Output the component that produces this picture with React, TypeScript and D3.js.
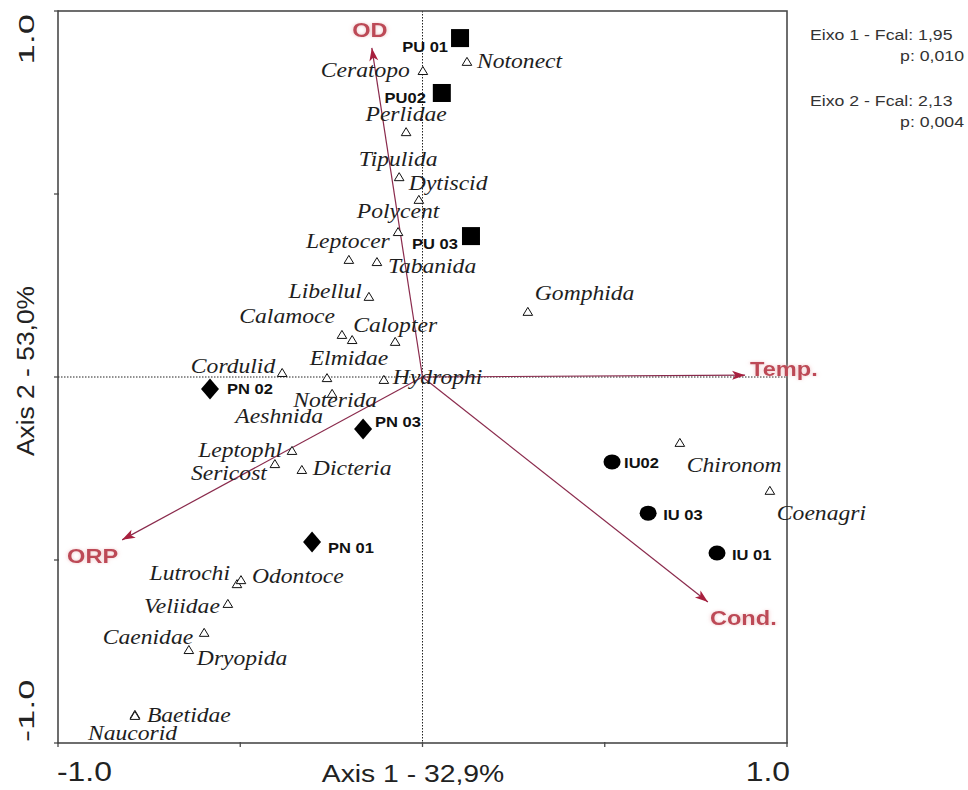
import React from "react";
import * as d3 from "d3";

// Ordination scores (axis 1, axis 2) for taxa, sampling sites and environmental vectors
const species: { name: string; a1: number; a2: number }[] = [
  { name: "Notonect", a1: 0.122, a2: 0.861 },
  { name: "Ceratopo", a1: 0.001, a2: 0.836 },
  { name: "Perlidae", a1: -0.045, a2: 0.669 },
  { name: "Tipulida", a1: -0.064, a2: 0.546 },
  { name: "Dytiscid", a1: -0.01, a2: 0.484 },
  { name: "Polycent", a1: -0.067, a2: 0.396 },
  { name: "Leptocer", a1: -0.202, a2: 0.32 },
  { name: "Tabanida", a1: -0.125, a2: 0.314 },
  { name: "Libellul", a1: -0.147, a2: 0.219 },
  { name: "Calamoce", a1: -0.221, a2: 0.115 },
  { name: "Aeshnida", a1: -0.193, a2: 0.101 },
  { name: "Calopter", a1: -0.075, a2: 0.096 },
  { name: "Cordulid", a1: -0.385, a2: 0.011 },
  { name: "Elmidae", a1: -0.262, a2: -0.003 },
  { name: "Hydrophi", a1: -0.106, a2: -0.008 },
  { name: "Noterida", a1: -0.248, a2: -0.046 },
  { name: "Gomphida", a1: 0.289, a2: 0.178 },
  { name: "Leptophl", a1: -0.358, a2: -0.202 },
  { name: "Sericost", a1: -0.405, a2: -0.238 },
  { name: "Dicteria", a1: -0.331, a2: -0.254 },
  { name: "Chironom", a1: 0.706, a2: -0.18 },
  { name: "Coenagri", a1: 0.953, a2: -0.311 },
  { name: "Lutrochi", a1: -0.509, a2: -0.566 },
  { name: "Odontoce", a1: -0.498, a2: -0.555 },
  { name: "Veliidae", a1: -0.534, a2: -0.62 },
  { name: "Caenidae", a1: -0.599, a2: -0.699 },
  { name: "Dryopida", a1: -0.641, a2: -0.746 },
  { name: "Baetidae", a1: -0.789, a2: -0.923 },
  { name: "Naucorid", a1: -0.789, a2: -0.926 },
];

const sites: { name: string; group: "PU" | "PN" | "IU"; a1: number; a2: number }[] = [
  { name: "PU 01", group: "PU", a1: 0.103, a2: 0.926 },
  { name: "PU02", group: "PU", a1: 0.053, a2: 0.776 },
  { name: "PU 03", group: "PU", a1: 0.133, a2: 0.385 },
  { name: "PN 02", group: "PN", a1: -0.583, a2: -0.033 },
  { name: "PN 03", group: "PN", a1: -0.163, a2: -0.142 },
  { name: "PN 01", group: "PN", a1: -0.303, a2: -0.451 },
  { name: "IU02", group: "IU", a1: 0.52, a2: -0.232 },
  { name: "IU 03", group: "IU", a1: 0.619, a2: -0.372 },
  { name: "IU 01", group: "IU", a1: 0.808, a2: -0.481 },
];

const envVars: { name: string; a1: number; a2: number }[] = [
  { name: "OD", a1: -0.139, a2: 0.899 },
  { name: "Temp.", a1: 0.885, a2: 0.005 },
  { name: "Cond.", a1: 0.783, a2: -0.615 },
  { name: "ORP", a1: -0.824, a2: -0.445 },
];

const axisTicks = [-1, -0.5, 0, 0.5, 1];
const axis1Title = "Axis 1 - 32,9%";
const axis2Title = "Axis 2 - 53,0%";
const statsLines = [
  { text: "Eixo 1 - Fcal: 1,95", indent: false },
  { text: "p: 0,010", indent: true },
  { text: "Eixo 2 - Fcal: 2,13", indent: false },
  { text: "p: 0,004", indent: true },
];

type Anchor = "start" | "middle" | "end";
// Label placement around each mark: [dx, dy, anchor]
const speciesLabelPlacement: Record<string, [number, number, Anchor]> = {
  Notonect: [10, 6, "start"],
  Ceratopo: [-13, 6, "end"],
  Perlidae: [0, -11, "middle"],
  Tipulida: [-1, -11, "middle"],
  Dytiscid: [-10, -10, "start"],
  Polycent: [0, -14, "middle"],
  Leptocer: [-1, -12, "middle"],
  Tabanida: [11, 11, "start"],
  Libellul: [-7, 1, "end"],
  Calamoce: [-7, -12, "end"],
  Aeshnida: [-29, 83, "end"],
  Calopter: [0, -10, "middle"],
  Cordulid: [-7, 0, "end"],
  Elmidae: [22, -13, "middle"],
  Hydrophi: [9, 4, "start"],
  Noterida: [3, 13, "middle"],
  Gomphida: [7, -12, "start"],
  Leptophl: [-10, 6, "end"],
  Sericost: [-8, 16, "end"],
  Dicteria: [11, 5, "start"],
  Chironom: [7, 29, "start"],
  Coenagri: [7, 29, "start"],
  Lutrochi: [-7, -4, "end"],
  Odontoce: [11, 3, "start"],
  Veliidae: [-8, 9, "end"],
  Caenidae: [-11, 11, "end"],
  Dryopida: [8, 15, "start"],
  Baetidae: [12, 7, "start"],
  Naucorid: [-47, 24, "start"],
};

const siteLabelPlacement: Record<string, [number, number, Anchor]> = {
  "PU 01": [-12, 14, "end"],
  PU02: [-16, 10, "end"],
  "PU 03": [-13, 13, "end"],
  "PN 02": [17, 5, "start"],
  "PN 03": [12, -2, "start"],
  "PN 01": [16, 11, "start"],
  IU02: [12, 6, "start"],
  "IU 03": [15, 7, "start"],
  "IU 01": [15, 7, "start"],
};

const envLabelPlacement: Record<string, [number, number, Anchor]> = {
  OD: [-2, -11, "middle"],
  "Temp.": [5, 1, "start"],
  "Cond.": [2, 23, "start"],
  ORP: [-4, 23, "end"],
};

const W = 968;
const H = 790;
const SANS = "'Liberation Sans', Arial, Helvetica, sans-serif";
const SERIF = "'Liberation Serif', 'Times New Roman', serif";
const STRETCH = 1.18;

const x = d3.scaleLinear().domain([-1, 1]).range([58, 787]);
const y = d3.scaleLinear().domain([-1, 1]).range([743, 11]);

function Txt(props: {
  x: number;
  y: number;
  text: string;
  anchor?: Anchor;
  size: number;
  family: string;
  weight?: string;
  italic?: boolean;
  fill?: string;
  sx?: number;
  filter?: string;
}) {
  const { sx = STRETCH } = props;
  return (
    <text
      transform={`translate(${props.x},${props.y}) scale(${sx},1)`}
      textAnchor={props.anchor || "start"}
      fontSize={props.size}
      fontFamily={props.family}
      fontWeight={props.weight || "normal"}
      fontStyle={props.italic ? "italic" : "normal"}
      fill={props.fill || "#1c1c1c"}
      filter={props.filter}
    >
      {props.text}
    </text>
  );
}

function arrowHead(x0: number, y0: number, x1: number, y1: number, len = 13, half = 4.5) {
  const ang = Math.atan2(y1 - y0, x1 - x0);
  const bx = x1 - len * Math.cos(ang);
  const by = y1 - len * Math.sin(ang);
  const px = -Math.sin(ang) * half;
  const py = Math.cos(ang) * half;
  const p = d3.path();
  p.moveTo(x1, y1);
  p.lineTo(bx + px, by + py);
  p.lineTo(bx + len * 0.25 * Math.cos(ang), by + len * 0.25 * Math.sin(ang));
  p.lineTo(bx - px, by - py);
  p.closePath();
  return p.toString();
}

function triangle(cx: number, cy: number) {
  const p = d3.path();
  p.moveTo(cx, cy - 4.5);
  p.lineTo(cx + 4.8, cy + 3.5);
  p.lineTo(cx - 4.8, cy + 3.5);
  p.closePath();
  return p.toString();
}

export default function App() {
  const x0 = x(0);
  const y0 = y(0);
  return (
    <svg
      width={W}
      height={H}
      viewBox={`0 0 ${W} ${H}`}
      style={{ position: "absolute", left: 0, top: 0, background: "#fff" }}
    >
      <defs>
        <filter id="envGlow" x="-20%" y="-40%" width="140%" height="180%">
          <feGaussianBlur in="SourceAlpha" stdDeviation="1.6" result="blur" />
          <feFlood floodColor="#eab0b4" floodOpacity="0.75" />
          <feComposite in2="blur" operator="in" result="glow" />
          <feMerge>
            <feMergeNode in="glow" />
            <feMergeNode in="SourceGraphic" />
          </feMerge>
        </filter>
      </defs>
      <rect width={W} height={H} fill="#fff" />

      {/* zero lines */}
      <line x1={x0} x2={x0} y1={y(1)} y2={y(-1)} stroke="#222" strokeWidth={1} strokeDasharray="1.5,1.5" />
      <line x1={x(-1)} x2={x(1)} y1={y0} y2={y0} stroke="#222" strokeWidth={1} strokeDasharray="1.5,1.5" />

      {/* frame */}
      <rect
        x={x(-1)}
        y={y(1)}
        width={x(1) - x(-1)}
        height={y(-1) - y(1)}
        fill="none"
        stroke="#4a4a4a"
        strokeWidth={1.6}
      />

      {/* ticks */}
      {axisTicks.map((t) => (
        <g key={"t" + t}>
          <line x1={x(-1) - 4} x2={x(-1) + 1} y1={y(t)} y2={y(t)} stroke="#4a4a4a" strokeWidth={1.3} />
          <line x1={x(t)} x2={x(t)} y1={y(-1) - 1} y2={y(-1) + 4} stroke="#4a4a4a" strokeWidth={1.3} />
        </g>
      ))}

      {/* tick labels */}
      <Txt x={57} y={781} text="-1.0" size={27} family={SANS} fill="#222" />
      <Txt x={790} y={781} text="1.0" anchor="end" size={27} family={SANS} fill="#222" />
      <text
        transform={`translate(34,14) rotate(-90) scale(1.65,1)`}
        textAnchor="end"
        fontSize={22}
        fontFamily={SANS}
        fill="#222"
      >
        1.0
      </text>
      <text
        transform={`translate(34,742) rotate(-90) scale(1.65,1)`}
        textAnchor="start"
        fontSize={22}
        fontFamily={SANS}
        fill="#222"
      >
        -1.0
      </text>

      {/* axis titles */}
      <Txt x={413} y={782} text={axis1Title} anchor="middle" size={24} family={SANS} fill="#222" />
      <text
        transform={`translate(34,371) rotate(-90) scale(1.1,1)`}
        textAnchor="middle"
        fontSize={24}
        fontFamily={SANS}
        fill="#222"
      >
        {axis2Title}
      </text>

      {/* environmental vectors */}
      {envVars.map((v) => {
        const tx = x(v.a1);
        const ty = y(v.a2);
        return (
          <g key={v.name}>
            <line x1={x0} y1={y0} x2={tx} y2={ty} stroke="#8a2a4c" strokeWidth={1.2} />
            <path d={arrowHead(x0, y0, tx, ty)} fill="#a8203e" />
          </g>
        );
      })}

      {/* taxa */}
      {species.map((s) => (
        <path
          key={s.name}
          d={triangle(x(s.a1), y(s.a2))}
          fill="#fff"
          stroke="#111"
          strokeWidth={1}
        />
      ))}

      {/* sites */}
      {sites.map((s) => {
        const cx = x(s.a1);
        const cy = y(s.a2);
        if (s.group === "PU")
          return <rect key={s.name} x={cx - 9} y={cy - 9} width={18} height={18} fill="#000" />;
        if (s.group === "PN")
          return (
            <path
              key={s.name}
              d={`M${cx},${cy - 10.5}L${cx + 9},${cy}L${cx},${cy + 10.5}L${cx - 9},${cy}Z`}
              fill="#000"
            />
          );
        return <ellipse key={s.name} cx={cx} cy={cy} rx={8.5} ry={7.5} fill="#000" />;
      })}

      {/* taxa labels */}
      {species.map((s) => {
        const [dx, dy, anchor] = speciesLabelPlacement[s.name];
        return (
          <Txt
            key={"l" + s.name}
            x={x(s.a1) + dx}
            y={y(s.a2) + dy}
            text={s.name}
            anchor={anchor}
            size={20}
            family={SERIF}
            italic
            fill="#1e1e1e"
          />
        );
      })}

      {/* site labels */}
      {sites.map((s) => {
        const [dx, dy, anchor] = siteLabelPlacement[s.name];
        return (
          <Txt
            key={"l" + s.name}
            x={x(s.a1) + dx}
            y={y(s.a2) + dy}
            text={s.name}
            anchor={anchor}
            size={14}
            family={SANS}
            weight="bold"
            fill="#111"
          />
        );
      })}

      {/* vector labels */}
      {envVars.map((v) => {
        const [dx, dy, anchor] = envLabelPlacement[v.name];
        return (
          <Txt
            key={"l" + v.name}
            x={x(v.a1) + dx}
            y={y(v.a2) + dy}
            text={v.name}
            anchor={anchor}
            size={20}
            family={SANS}
            weight="bold"
            fill="#bd4a57"
            filter="url(#envGlow)"
          />
        );
      })}

      {/* test statistics */}
      {statsLines.map((l, i) => (
        <Txt
          key={"s" + i}
          x={l.indent ? 964 : 810}
          y={[40, 61, 106, 127][i]}
          text={l.text}
          anchor={l.indent ? "end" : "start"}
          size={15}
          family={SANS}
          fill="#333"
        />
      ))}
    </svg>
  );
}
